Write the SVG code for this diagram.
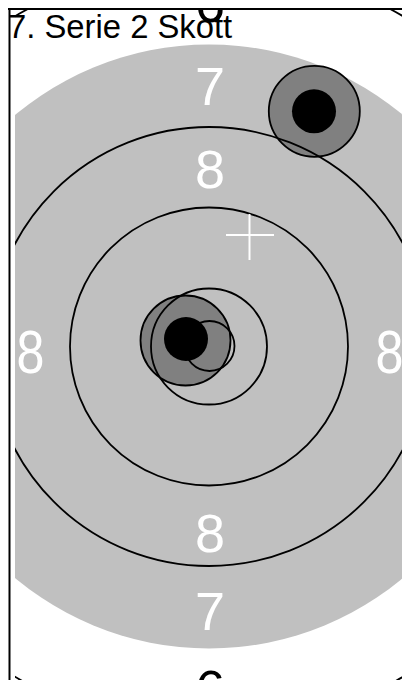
<svg xmlns="http://www.w3.org/2000/svg" width="402" height="680" viewBox="0 0 402 680">
<defs>
<style>
.ring{fill:none;stroke:#000;stroke-width:1.8}
.lbl{font-family:"Liberation Sans",Arial,sans-serif;font-size:54px;fill:#fff;text-anchor:middle}
.lblb{font-family:"Liberation Sans",Arial,sans-serif;font-size:54px;fill:#000;text-anchor:middle}
.shot{fill:#808080;stroke:#000;stroke-width:1.8}
.core{fill:#000}
.cross{stroke:#fff;stroke-width:2}
</style>
<clipPath id="plot"><rect x="15" y="10" width="400" height="680"/></clipPath>
</defs>
<rect width="402" height="680" fill="#fff"/>
<g id="target" clip-path="url(#plot)">
<circle cx="209" cy="346.5" r="302" fill="#C0C0C0"/>
<circle class="ring" cx="209" cy="346.5" r="383"/>
<text class="lblb" x="210" y="22">6</text>
<text class="lblb" x="210" y="708">6</text>
<text class="lbl" x="210" y="105">7</text>
<text class="lbl" x="210" y="630">7</text>
<text class="lbl" x="210" y="188">8</text>
<text class="lbl" x="210" y="552">8</text>
<text class="lbl" transform="translate(30.5,373) scale(0.93,1.12)" x="0" y="0">8</text>
<text class="lbl" transform="translate(389.5,373) scale(0.93,1.12)" x="0" y="0">8</text>
<g id="shot1"><circle class="shot" cx="185.5" cy="340.5" r="45"/><circle class="core" cx="186" cy="339" r="22"/></g>
<g id="shot2"><circle class="shot" cx="314.3" cy="111.3" r="45.5"/><circle class="core" cx="314" cy="111.3" r="22"/></g>
<circle class="ring" cx="209" cy="346.5" r="219.5"/>
<circle class="ring" cx="209" cy="346.5" r="139"/>
<circle class="ring" cx="209" cy="346.5" r="58"/>
<circle class="ring" cx="209.5" cy="346" r="25"/>
<g id="cross"><line class="cross" x1="249.5" y1="214" x2="249.5" y2="260"/><line class="cross" x1="226" y1="235" x2="274" y2="235"/></g>
</g>
<g id="frame"><line x1="8" y1="9" x2="402" y2="9" stroke="#000" stroke-width="2"/><line x1="9.5" y1="8" x2="9.5" y2="680" stroke="#000" stroke-width="2"/></g>
<text id="title" x="8" y="38" font-family="'Liberation Sans',Arial,sans-serif" font-size="32.8" fill="#000">7. Serie 2 Skott</text>
</svg>
